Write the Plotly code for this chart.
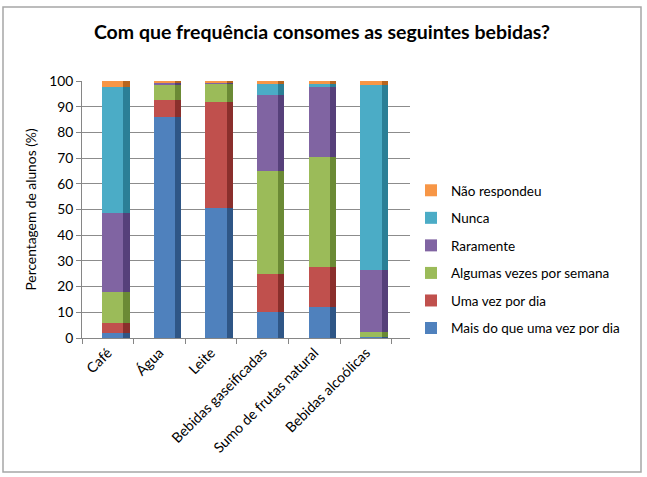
import plotly.graph_objects as go

categories = ["Café", "Água", "Leite", "Bebidas gaseificadas", "Sumo de frutas natural", "Bebidas alcoólicas"]

series_names = ["Mais do que uma vez por dia", "Uma vez por dia", "Algumas vezes por semana",
                "Raramente", "Nunca", "Não respondeu"]

mais_uma_vez_dia = [2.0, 86.0, 50.5, 10.0, 12.0, 0.5]
uma_vez_dia = [4.0, 6.5, 41.5, 15.0, 15.5, 0.0]
algumas_vezes_semana = [12.0, 6.0, 7.0, 40.0, 43.0, 2.0]
raramente = [30.5, 1.0, 0.5, 29.5, 27.0, 24.0]
nunca = [49.0, 0.0, 0.0, 4.5, 1.5, 72.0]
nao_respondeu = [2.5, 0.5, 0.5, 1.0, 1.0, 1.5]

series_values = [mais_uma_vez_dia, uma_vez_dia, algumas_vezes_semana, raramente, nunca, nao_respondeu]

front_colors = ["#4F81BD", "#C0504D", "#9BBB59", "#8064A2", "#4BACC6", "#F79646"]
side_colors = ["#2F5686", "#8A2F2C", "#6B8A35", "#56407A", "#2B7F96", "#B8651E"]

fig = go.Figure()

base = [0.0] * len(categories)
n = len(series_names)
for i, (name, vals, fc, sc) in enumerate(zip(series_names, series_values, front_colors, side_colors)):
    # side (depth) face
    fig.add_trace(go.Bar(
        x=categories, y=vals, base=list(base), name=name,
        marker=dict(color=sc, line=dict(width=0)),
        offset=0.30, width=0.12, showlegend=False, hoverinfo="skip",
    ))
    # front face
    fig.add_trace(go.Bar(
        x=categories, y=vals, base=list(base), name=name, legendgroup=name,
        legendrank=100 * (n - i),
        marker=dict(color=fc, line=dict(width=0)),
        offset=-0.11, width=0.41,
    ))
    base = [b + v for b, v in zip(base, vals)]

L, R, T, B = 82, 410, 81, 338
W, H = 647, 477
pw, ph = R - L, B - T

fig.update_layout(
    width=W, height=H,
    barmode="overlay",
    bargap=0,
    paper_bgcolor="white",
    plot_bgcolor="white",
    font=dict(family="Lato, Open Sans, sans-serif", size=13.5, color="#000000"),
    margin=dict(l=L, r=W - R, t=T, b=H - B, autoexpand=False),
    title=dict(
        text="<b>Com que frequência consomes as seguintes bebidas?</b>",
        x=322 / W, xref="container", xanchor="center",
        y=1 - 32 / H, yref="container", yanchor="middle",
        font=dict(size=19.5, color="#000000"),
    ),
    legend=dict(
        x=(411 - L) / pw, y=(B - 259.5) / ph, xanchor="left", yanchor="middle",
        traceorder="grouped", tracegroupgap=7,
        font=dict(size=13.5), bgcolor="rgba(0,0,0,0)",
    ),
    xaxis=dict(
        type="category",
        tickangle=-45,
        tickson="boundaries",
        ticks="outside", ticklen=5, tickcolor="#868686",
        showline=True, linecolor="#868686", linewidth=1,
        showgrid=False,
        tickfont=dict(size=14.2),
        range=[-0.5, 5.85],
    ),
    yaxis=dict(
        range=[0, 100],
        tickmode="linear", tick0=0, dtick=10,
        ticks="outside", ticklen=5, tickcolor="#868686",
        showline=True, linecolor="#868686", linewidth=1,
        showgrid=True, gridcolor="#8C8C8C", gridwidth=1,
        zeroline=False,
        tickfont=dict(size=13.8),
        title=dict(text="Percentagem de alunos (%)", font=dict(size=13.8), standoff=9),
    ),
    shapes=[dict(
        type="rect", xref="paper", yref="paper",
        x0=(3 - L) / pw, x1=(641 - L) / pw,
        y0=(B - 472) / ph, y1=(B - 7) / ph,
        line=dict(color="#A6A6A6", width=1.5), fillcolor="rgba(0,0,0,0)", layer="below",
    )],
)

fig.write_html(
    "out.html",
    config={"displayModeBar": False},
    post_script="document.body.style.margin='0';document.body.style.padding='0';",
)
